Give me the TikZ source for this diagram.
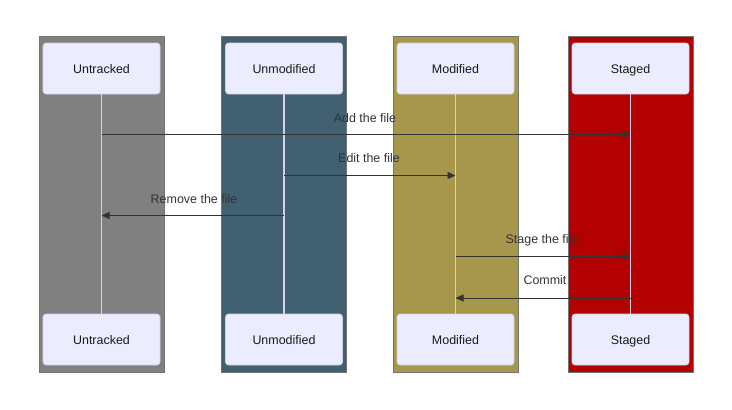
\documentclass[tikz,border=0pt]{standalone}
\usepackage{fontspec}
\setmainfont{Liberation Sans}
\usetikzlibrary{arrows.meta}
\definecolor{cgray}{RGB}{128,128,128}
\definecolor{cblue}{RGB}{65,96,114}
\definecolor{colive}{RGB}{166,151,76}
\definecolor{cred}{RGB}{179,0,0}
\definecolor{actfill}{RGB}{236,236,255}
\definecolor{actline}{RGB}{208,208,232}
\definecolor{lifeline}{RGB}{212,208,232}
\definecolor{msg}{RGB}{51,51,51}
\tikzset{
  lane/.style={draw=black!55, line width=0.6pt},
  actor/.style={draw=actline, fill=actfill, rounded corners=3bp, minimum width=117bp, minimum height=51bp, inner sep=0pt, font=\fontsize{12.5}{14}\selectfont, text=black!90, line width=0.6pt, text height=10.5bp, text depth=1bp},
  life/.style={draw=lifeline, line width=1.3pt},
  msgline/.style={draw=msg, line width=0.9pt, -{Triangle[length=8bp,width=7bp]}},
  msglabel/.style={font=\fontsize{12.5}{14}\selectfont, text=msg, inner sep=0pt, text height=10bp, text depth=1.5bp}
}
\begin{document}
\begin{tikzpicture}[x=1bp,y=-1bp]
\useasboundingbox (0,0) rectangle (732,409);
% lanes
\fill[white] (0,0) rectangle (732,409);
\draw[lane, fill=cgray] (39,36) rectangle (164,372);
\draw[lane, fill=cblue] (221,36) rectangle (346,372);
\draw[lane, fill=colive] (393,36) rectangle (518,372);
\draw[lane, fill=cred] (568,36) rectangle (693,372);
% actors
\node[actor] (ut) at (101.5,68.5) {Untracked};
\node[actor] (um) at (284,68.5) {Unmodified};
\node[actor] (mo) at (455.5,68.5) {Modified};
\node[actor] (st) at (630.5,68.5) {Staged};
\node[actor] (utb) at (101.5,339.5) {Untracked};
\node[actor] (umb) at (284,339.5) {Unmodified};
\node[actor] (mob) at (455.5,339.5) {Modified};
\node[actor] (stb) at (630.5,339.5) {Staged};
% lifelines
\draw[life] (ut.south) -- (utb.north);
\draw[life] (um.south) -- (umb.north);
\draw[life] (mo.south) -- (mob.north);
\draw[life] (st.south) -- (stb.north);
% message anchor points
\coordinate (a1) at (101.5,134.5); \coordinate (a2) at (630.5,134.5);
\coordinate (b1) at (284,175.5); \coordinate (b2) at (455.5,175.5);
\coordinate (c1) at (284,215.5); \coordinate (c2) at (101.5,215.5);
\coordinate (d1) at (455.5,256.5); \coordinate (d2) at (630.5,256.5);
\coordinate (e1) at (630.5,298); \coordinate (e2) at (455.5,298);
\draw[msgline] (a1) -- (a2);
\draw[msgline] (b1) -- (b2);
\draw[msgline] (c1) -- (c2);
\draw[msgline] (d1) -- (d2);
\draw[msgline] (e1) -- (e2);
\node[msglabel] (la) at (365,118) {Add the file};
\node[msglabel] (lb) at (369,158) {Edit the file};
\node[msglabel] (lc) at (194,199) {Remove the file};
\node[msglabel] (ld) at (542,239) {Stage the file};
\node[msglabel] (le) at (545,280) {Commit};
\end{tikzpicture}
\end{document}
